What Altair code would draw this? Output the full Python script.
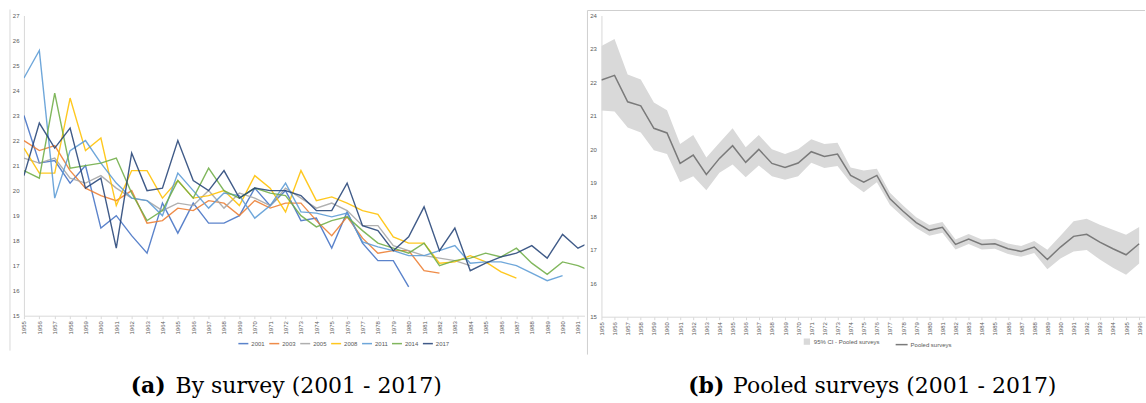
import altair as alt
import pandas as pd

# ---------------- data: panel (a) by survey ----------------
years_a = list(range(1955, 1993))
surveys = ["2001", "2003", "2005", "2008", "2011", "2014", "2017"]
colors = ["#4472C4", "#ED7D31", "#A5A5A5", "#FFC000", "#5B9BD5", "#70AD47", "#264478"]

s2001 = [23.0, 21.1, 21.2, 20.3, 21.0, 18.5, 19.0, 18.2, 17.5, 19.5, 18.3, 19.5, 18.7, 18.7,
         19.0, 20.1, 19.4, 20.0, 18.8, 18.9, 17.7, 19.15, 17.9, 17.2, 17.2, 16.15]
s2003 = [22.0, 21.6, 21.8, 20.8, 20.1, 19.8, 19.6, 20.0, 18.7, 18.8, 19.3, 19.2, 19.6, 19.5,
         19.0, 19.6, 19.3, 19.5, 19.5, 18.8, 18.2, 18.95, 18.1, 17.5, 17.6, 17.6, 16.8, 16.7]
s2005 = [21.3, 21.1, 21.3, 20.5, 20.3, 20.6, 20.1, 19.7, 19.6, 19.2, 19.5, 19.4, 20.0, 19.3,
         19.9, 19.7, 19.4, 20.1, 19.7, 19.3, 19.5, 19.2, 18.6, 18.6, 17.8, 17.6, 17.4, 17.3,
         17.2, 17.0]
s2008 = [21.7, 20.7, 20.7, 23.7, 21.6, 22.1, 19.4, 20.8, 20.8, 19.7, 20.4, 19.7, 19.8, 20.0,
         19.4, 20.6, 20.1, 19.15, 20.8, 19.6, 19.75, 19.5, 19.2, 19.05, 18.15, 17.9, 17.9, 17.1,
         17.15, 17.4, 17.15, 16.75, 16.5]
s2011 = [24.5, 25.6, 19.7, 21.6, 22.0, 21.1, 20.3, 19.7, 19.6, 19.0, 20.7, 20.0, 19.3, 19.9,
         19.8, 18.9, 19.4, 20.3, 19.15, 19.1, 18.95, 19.1, 17.95, 17.75, 17.6, 17.4, 17.4, 17.6,
         17.8, 17.1, 17.15, 17.15, 17.0, 16.7, 16.4, 16.6]
s2014 = [20.8, 20.5, 23.9, 20.9, 21.0, 21.1, 21.3, 19.9, 18.8, 19.2, 20.4, 19.7, 20.9, 20.0,
         19.7, 20.1, 19.9, 19.8, 19.0, 18.55, 18.8, 18.95, 18.4, 17.9, 17.7, 17.5, 17.9, 17.0,
         17.2, 17.3, 17.5, 17.35, 17.7, 17.1, 16.65, 17.15, 17.0, 16.75]
s2017 = [20.6, 22.7, 21.7, 22.5, 20.1, 20.5, 17.7, 21.5, 20.0, 20.1, 22.0, 20.4, 20.0, 20.8,
         19.7, 20.1, 20.0, 20.0, 19.8, 19.2, 19.2, 20.3, 18.6, 18.4, 17.6, 18.15, 19.35, 17.6,
         18.5, 16.8, 17.1, 17.35, 17.5, 17.8, 17.3, 18.25, 17.7, 18.0]
series_a = [s2001, s2003, s2005, s2008, s2011, s2014, s2017]
ticks_a = list(range(1955, 1992))

# ---------------- data: panel (b) pooled ----------------
years_b = list(range(1955, 1997))
pooled = [22.07, 22.21, 21.42, 21.30, 20.63, 20.49, 19.58, 19.83, 19.25, 19.73, 20.11, 19.61,
          20.00, 19.58, 19.46, 19.59, 19.93, 19.79, 19.86, 19.22, 19.02, 19.22, 18.52, 18.15,
          17.81, 17.58, 17.67, 17.16, 17.32, 17.16, 17.18, 17.03, 16.95, 17.08, 16.71, 17.08,
          17.40, 17.46, 17.23, 17.03, 16.85, 17.18]
ci_low = [21.16, 21.13, 20.65, 20.50, 19.97, 19.86, 19.02, 19.20, 18.78, 19.30, 19.55, 19.17,
          19.52, 19.20, 19.09, 19.20, 19.60, 19.44, 19.50, 19.00, 18.72, 19.02, 18.34, 17.98,
          17.65, 17.42, 17.51, 17.01, 17.17, 17.01, 17.03, 16.87, 16.79, 16.90, 16.42, 16.74,
          16.95, 16.99, 16.71, 16.46, 16.25, 16.59]
ci_high = [23.09, 23.30, 22.24, 22.09, 21.40, 21.17, 20.16, 20.43, 19.76, 20.20, 20.63, 20.06,
           20.43, 20.00, 19.86, 20.00, 20.30, 20.16, 20.20, 19.46, 19.37, 19.42, 18.70, 18.32,
           17.97, 17.74, 17.83, 17.31, 17.47, 17.31, 17.33, 17.19, 17.11, 17.26, 17.00, 17.42,
           17.85, 17.93, 17.75, 17.60, 17.45, 17.68]
ticks_b = list(range(1955, 1997))

ci_label = "95% CI - Pooled surveys"
line_label = "Pooled surveys"

# ---------------- build tables ----------------
rows = []
for name, vals in zip(surveys, series_a):
    for y, v in zip(years_a, vals):
        rows.append({"year": y, "value": v, "survey": name})
df_a = pd.DataFrame(rows)

df_b = pd.DataFrame({"year": years_b, "mean": pooled, "lo": ci_low, "hi": ci_high,
                     "ci": ci_label, "ln": line_label})
dummy = pd.DataFrame({"k": [0]})

W_A, H_A = 562, 301
W_B, H_B = 545, 302
LBL = "#595959"
AX = "#d9d9d9"


def xaxis(vals):
    return alt.Axis(values=vals, format="d", labelAngle=270, labelFontSize=6,
                    labelColor=LBL, labelPadding=2, tickSize=3, tickColor=AX,
                    domainColor=AX, grid=False, title=None, labelFont="Liberation Sans",
                    labelOverlap=False)


def yaxis(vals):
    return alt.Axis(values=vals, labelFontSize=6, labelColor=LBL, ticks=False,
                    labelPadding=5, domainColor=AX, grid=False, title=None,
                    labelFont="Liberation Sans", labelOverlap=False)


# ---------------- panel (a) ----------------
lines_a = alt.Chart(df_a).mark_line(strokeWidth=1.4, clip=True, opacity=0.88).encode(
    x=alt.X("year:Q", scale=alt.Scale(domain=[1955, 1955 + W_A / 15.43], nice=False, zero=False),
            axis=xaxis(ticks_a)),
    y=alt.Y("value:Q", scale=alt.Scale(domain=[15, 27], nice=False, zero=False),
            axis=yaxis(list(range(15, 28)))),
    color=alt.Color("survey:N", scale=alt.Scale(domain=surveys, range=colors),
                    legend=alt.Legend(orient="none", legendX=214, legendY=323,
                                      direction="horizontal", title=None,
                                      symbolType="stroke", symbolSize=100,
                                      symbolStrokeWidth=1.5, labelFontSize=6,
                                      labelColor=LBL, labelOffset=2, columnPadding=1,
                                      labelFont="Liberation Sans")),
    detail="survey:N",
)

border_a = alt.Chart(dummy).mark_rule(color=AX, strokeWidth=1).encode(
    x=alt.value(-14), y=alt.value(-6), y2=alt.value(336))

cap_a1 = alt.Chart(dummy).mark_text(text="(a)", font="DejaVu Serif", fontWeight="bold",
                                    fontSize=22, align="left", baseline="middle",
                                    color="black").encode(x=alt.value(107), y=alt.value(372))
cap_a2 = alt.Chart(dummy).mark_text(text="By survey (2001 - 2017)", font="DejaVu Serif",
                                    fontSize=22, align="left", baseline="middle",
                                    color="black").encode(x=alt.value(152), y=alt.value(372))

panel_a = alt.layer(lines_a, border_a, cap_a1, cap_a2).properties(width=W_A, height=H_A)

# ---------------- panel (b) ----------------
xb = alt.X("year:Q", scale=alt.Scale(domain=[1955, 1955 + W_B / 13.15], nice=False, zero=False),
           axis=xaxis(ticks_b))
yb_axis = yaxis(list(range(15, 25)))
band = alt.Chart(df_b).mark_area(clip=True, opacity=1).encode(
    x=xb,
    y=alt.Y("lo:Q", scale=alt.Scale(domain=[15, 24], nice=False, zero=False), axis=yb_axis),
    y2="hi:Q",
    fill=alt.Fill("ci:N", scale=alt.Scale(domain=[ci_label], range=["#d9d9d9"]),
                  legend=alt.Legend(orient="none", legendX=202, legendY=323, title=None,
                                    symbolType="square", symbolSize=40, labelFontSize=6,
                                    labelColor=LBL, labelOffset=3,
                                    labelFont="Liberation Sans")),
)
line_b = alt.Chart(df_b).mark_line(strokeWidth=1.5, clip=True).encode(
    x=xb,
    y=alt.Y("mean:Q", scale=alt.Scale(domain=[15, 24], nice=False, zero=False), axis=yb_axis),
    stroke=alt.Stroke("ln:N", scale=alt.Scale(domain=[line_label], range=["#7a7a7a"]),
                      legend=alt.Legend(orient="none", legendX=294, legendY=323, title=None,
                                        symbolType="stroke", symbolSize=144,
                                        symbolStrokeWidth=1.5, labelFontSize=6,
                                        labelColor=LBL, labelOffset=2,
                                        labelFont="Liberation Sans")),
)
border_b1 = alt.Chart(dummy).mark_rule(color="#cfcfcf", strokeWidth=1).encode(
    x=alt.value(-14), y=alt.value(-5), y2=alt.value(340))
border_b2 = alt.Chart(dummy).mark_rule(color="#cfcfcf", strokeWidth=1).encode(
    x=alt.value(-14), x2=alt.value(W_B), y=alt.value(-5))

cap_b1 = alt.Chart(dummy).mark_text(text="(b)", font="DejaVu Serif", fontWeight="bold",
                                    fontSize=22, align="left", baseline="middle",
                                    color="black").encode(x=alt.value(87), y=alt.value(372))
cap_b2 = alt.Chart(dummy).mark_text(text="Pooled surveys (2001 - 2017)", font="DejaVu Serif",
                                    fontSize=22, align="left", baseline="middle",
                                    color="black").encode(x=alt.value(132), y=alt.value(372))

panel_b = alt.layer(band, line_b, border_b1, border_b2, cap_b1, cap_b2).resolve_scale(
    fill="independent", stroke="independent").properties(width=W_B, height=H_B)

chart = alt.hconcat(panel_a, panel_b, spacing=2).resolve_scale(
    color="independent", fill="independent", stroke="independent"
).resolve_legend(color="independent", fill="independent", stroke="independent").properties(
    padding={"left": 9, "top": 8, "right": 0, "bottom": 0},
    background="white",
).configure_view(stroke=None).configure_axis(labelOverlap=False)

chart.save("out.html", embed_options={"renderer": "svg", "actions": False})
